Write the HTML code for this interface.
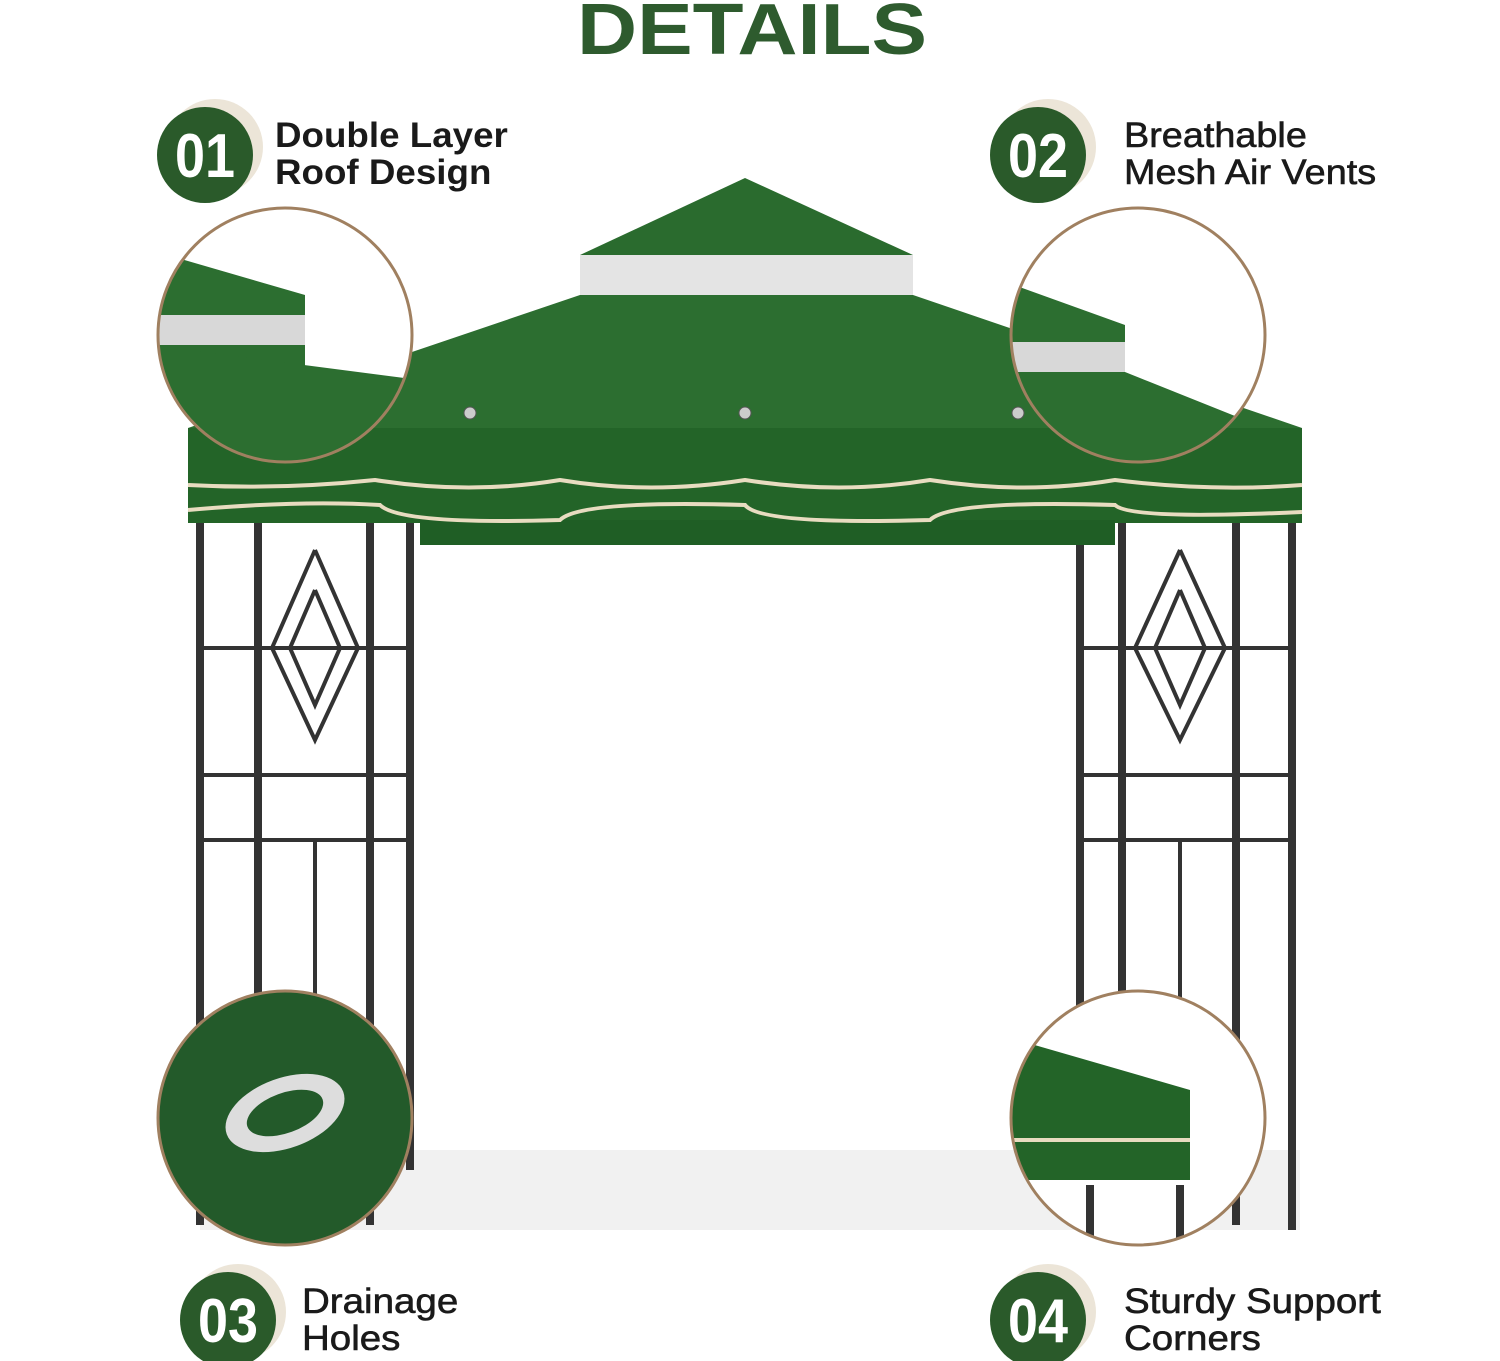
<!DOCTYPE html>
<html><head><meta charset="utf-8"><style>
html,body{margin:0;padding:0;background:#fff;}
body{width:1500px;height:1361px;position:relative;overflow:hidden;font-family:"Liberation Sans",sans-serif;}
.t{position:absolute;font-weight:bold;color:#1a1a1a;font-size:35px;line-height:37px;transform-origin:0 0;white-space:nowrap;}
.n{font-weight:normal;-webkit-text-stroke:0.6px #1a1a1a}
</style></head><body>
<svg width="1500" height="1361" style="position:absolute;left:0;top:0">
<defs>
<clipPath id="c1"><circle cx="285" cy="335" r="127"/></clipPath>
<clipPath id="c2"><circle cx="1138" cy="335" r="127"/></clipPath>
<clipPath id="c3"><circle cx="285" cy="1118" r="127"/></clipPath>
<clipPath id="c4"><circle cx="1138" cy="1118" r="127"/></clipPath>
</defs>
<text x="752" y="54" text-anchor="middle" font-family="Liberation Sans" font-weight="bold" font-size="72" fill="#2e5b2e" textLength="350" lengthAdjust="spacingAndGlyphs">DETAILS</text>
<rect x="200" y="1150" width="1100" height="80" fill="#f1f1f1"/>
<g stroke="#333" fill="none">
<g stroke-width="8"><line x1="200" y1="520" x2="200" y2="1225"/><line x1="258" y1="520" x2="258" y2="1225"/><line x1="370" y1="520" x2="370" y2="1225"/><line x1="410" y1="520" x2="410" y2="1170"/>
<line x1="1080" y1="520" x2="1080" y2="1170"/><line x1="1122" y1="520" x2="1122" y2="1225"/><line x1="1236" y1="520" x2="1236" y2="1225"/><line x1="1292" y1="520" x2="1292" y2="1230"/></g>
<g stroke-width="4"><line x1="200" y1="648" x2="410" y2="648"/><line x1="200" y1="775" x2="410" y2="775"/><line x1="200" y1="840" x2="410" y2="840"/>
<line x1="1080" y1="648" x2="1292" y2="648"/><line x1="1080" y1="775" x2="1292" y2="775"/><line x1="1080" y1="840" x2="1292" y2="840"/>
<polyline points="315,550 358,648 315,740 272,648 315,550"/><polyline points="315,590 340,648 315,705 290,648 315,590"/>
<polyline points="1180,550 1225,648 1180,740 1135,648 1180,550"/><polyline points="1180,590 1205,648 1180,705 1155,648 1180,590"/>
<line x1="315" y1="840" x2="315" y2="1000"/><line x1="1180" y1="840" x2="1180" y2="1000"/></g>
</g>
<polygon points="745,178 913,255 580,255" fill="#2a6b2e"/>
<rect x="580" y="255" width="333" height="40" fill="#e4e4e4"/>
<polygon points="580,295 913,295 1302,428 188,428" fill="#2c6e30"/>
<circle cx="470" cy="413" r="6" fill="#ccc" stroke="#555"/><circle cx="745" cy="413" r="6" fill="#ccc" stroke="#555"/><circle cx="1018" cy="413" r="6" fill="#ccc" stroke="#555"/>
<rect x="188" y="428" width="1114" height="95" fill="#236428"/>
<rect x="420" y="520" width="695" height="25" fill="#1f5e25"/>
<path d="M188,485 Q280,490 375,480 Q470,495 560,480 Q650,495 745,480 Q840,495 930,480 Q1025,495 1115,480 Q1210,492 1302,485" stroke="#e8dcc0" stroke-width="4" fill="none"/>
<path d="M188,510 Q300,500 380,505 Q400,525 560,520 Q580,500 745,505 Q760,525 930,520 Q950,500 1115,505 Q1130,520 1302,512" stroke="#e8dcc0" stroke-width="4" fill="none"/>
<g clip-path="url(#c1)"><rect x="150" y="200" width="270" height="270" fill="#fff"/>
<polygon points="150,250 305,295 305,470 150,470" fill="#2c6e30"/><polygon points="150,315 305,315 305,345 150,345" fill="#d8d8d8"/><polygon points="150,345 420,380 420,470 150,470" fill="#2c6e30"/></g>
<circle cx="285" cy="335" r="127" fill="none" stroke="#a08060" stroke-width="3"/>
<g clip-path="url(#c2)"><rect x="1000" y="200" width="280" height="270" fill="#fff"/>
<polygon points="1000,280 1125,325 1125,470 1000,470" fill="#2c6e30"/><rect x="1000" y="342" width="125" height="30" fill="#d8d8d8"/><polygon points="1000,372 1125,372 1270,430 1270,470 1000,470" fill="#2c6e30"/></g>
<circle cx="1138" cy="335" r="127" fill="none" stroke="#a08060" stroke-width="3"/>
<g clip-path="url(#c3)"><rect x="150" y="985" width="270" height="270" fill="#235a2a"/>
<ellipse cx="285" cy="1113" rx="62" ry="35" fill="#ddd" transform="rotate(-20 285 1113)"/><ellipse cx="285" cy="1113" rx="40" ry="20" fill="#235a2a" transform="rotate(-20 285 1113)"/></g>
<circle cx="285" cy="1118" r="127" fill="none" stroke="#a08060" stroke-width="3"/>
<g clip-path="url(#c4)"><rect x="1000" y="985" width="280" height="270" fill="#fff"/>
<polygon points="1000,1035 1190,1090 1190,1180 1000,1180" fill="#236428"/><path d="M1010,1140 H1190" stroke="#e8dcc0" stroke-width="4"/>
<line x1="1090" y1="1185" x2="1090" y2="1250" stroke="#333" stroke-width="8"/><line x1="1180" y1="1185" x2="1180" y2="1250" stroke="#333" stroke-width="8"/></g>
<circle cx="1138" cy="1118" r="127" fill="none" stroke="#a08060" stroke-width="3"/>
<g font-family="Liberation Sans" font-weight="bold" font-size="62" fill="#fff" text-anchor="middle">
<circle cx="215" cy="147" r="48" fill="#ece5d8"/><circle cx="205" cy="155" r="48" fill="#2a5a2a"/><text x="205" y="177" textLength="60" lengthAdjust="spacingAndGlyphs">01</text>
<circle cx="1048" cy="147" r="48" fill="#ece5d8"/><circle cx="1038" cy="155" r="48" fill="#2a5a2a"/><text x="1038" y="177" textLength="60" lengthAdjust="spacingAndGlyphs">02</text>
<circle cx="238" cy="1312" r="48" fill="#ece5d8"/><circle cx="228" cy="1320" r="48" fill="#2a5a2a"/><text x="228" y="1342" textLength="60" lengthAdjust="spacingAndGlyphs">03</text>
<circle cx="1048" cy="1312" r="48" fill="#ece5d8"/><circle cx="1038" cy="1320" r="48" fill="#2a5a2a"/><text x="1038" y="1342" textLength="60" lengthAdjust="spacingAndGlyphs">04</text>
</g>
</svg>
<div class="t" style="left:275px;top:117px;transform:scaleX(1.05)">Double Layer<br>Roof Design</div>
<div class="t n" style="left:1124px;top:117px;transform:scaleX(1.08)">Breathable<br>Mesh Air Vents</div>
<div class="t n" style="left:302px;top:1283px;transform:scaleX(1.1)">Drainage<br>Holes</div>
<div class="t n" style="left:1124px;top:1283px;transform:scaleX(1.1)">Sturdy Support<br>Corners</div>
</body></html>
